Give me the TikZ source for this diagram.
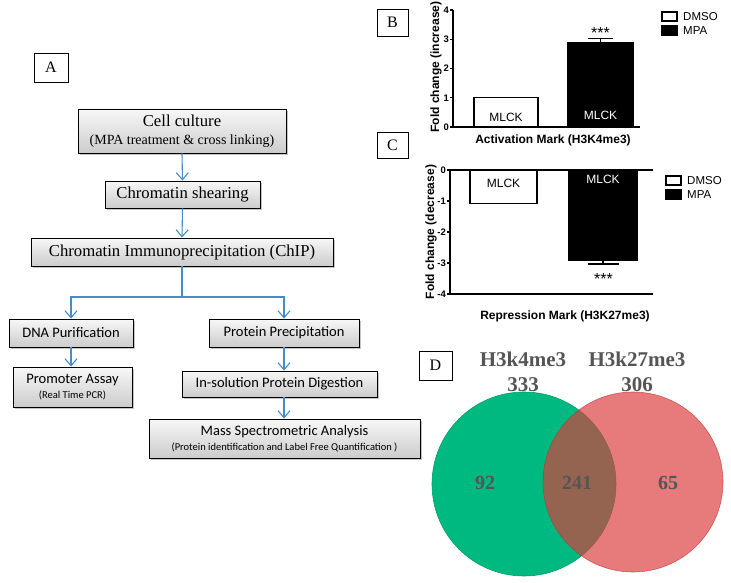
\documentclass[tikz,border=0pt]{standalone}
\usepackage{fontspec}
\setmainfont{Liberation Serif}
\newfontfamily\calfont{Carlito}
\newfontfamily\arfont{Liberation Sans}
\usetikzlibrary{arrows.meta,shadows}
\definecolor{arrblue}{RGB}{70,140,200}
\definecolor{vgreen}{RGB}{0,185,128}
\definecolor{vgreenb}{RGB}{0,160,110}
\definecolor{vred}{RGB}{220,60,60}
\definecolor{vtext}{RGB}{85,85,85}
\tikzset{
  fbox/.style={draw=black, line width=0.9pt, top color=gray!6, bottom color=gray!40,
    drop shadow={opacity=0.45, shadow xshift=1.8pt, shadow yshift=-1.8pt},
    inner sep=0pt, align=center},
  plabel/.style={draw=black, line width=0.8pt, fill=white, inner sep=0pt,
    font=\fontsize{16}{18}\selectfont},
  arr/.style={draw=arrblue, line width=1.1pt, -{Straight Barb[length=7pt,width=12pt,line width=1.1pt]}},
  conn/.style={draw=arrblue, line width=1.1pt},
  bar/.style={draw=black, line width=1.2pt},
  ax/.style={draw=black, line width=1.2pt},
  tick/.style={font=\arfont\bfseries\fontsize{9.5}{10}\selectfont, anchor=east, inner sep=1pt},
  axlab/.style={font=\arfont\bfseries\fontsize{12}{13}\selectfont},
  barlab/.style={font=\arfont\fontsize{12}{13}\selectfont},
  stars/.style={font=\arfont\fontsize{16}{16}\selectfont},
  leg/.style={font=\arfont\fontsize{11.5}{12}\selectfont, anchor=west, inner sep=0pt},
  vtitle/.style={font=\bfseries\fontsize{21}{23}\selectfont, text=vtext},
  vnum/.style={font=\bfseries\fontsize{20}{22}\selectfont, text=vtext}
}
\begin{document}
\begin{tikzpicture}[x=1pt,y=-1pt]
\useasboundingbox (0,0) rectangle (731,583);

% ---------- Panel A ----------
\node[plabel, minimum width=34pt, minimum height=29pt] (la) at (51,67.5) {A};

\node[fbox, minimum width=208pt, minimum height=44pt, font=\fontsize{16.7}{18}\selectfont] (cell) at (182,131)
  {Cell culture\\{\fontsize{14}{16}\selectfont (MPA treatment \& cross linking)}};
\node[fbox, minimum width=155pt, minimum height=27pt, font=\fontsize{16.7}{18}\selectfont] (shear) at (182.5,194.5) {Chromatin shearing};
\node[fbox, minimum width=302pt, minimum height=28pt, font=\fontsize{16.7}{18}\selectfont] (chip) at (182,252) {Chromatin Immunoprecipitation (ChIP)};
\node[fbox, minimum width=124pt, minimum height=28pt, font=\calfont\fontsize{14.5}{16}\selectfont] (dna) at (71,333) {DNA Purification};
\node[fbox, minimum width=119pt, minimum height=40pt, font=\calfont\fontsize{14.5}{15}\selectfont] (prom) at (72.5,387)
  {Promoter Assay\\{\fontsize{10.5}{12}\selectfont (Real Time PCR)}};
\node[fbox, minimum width=150pt, minimum height=28pt, font=\calfont\fontsize{14.5}{16}\selectfont] (prot) at (284,333) {Protein Precipitation};
\node[fbox, minimum width=195pt, minimum height=26pt, font=\calfont\fontsize{14.5}{16}\selectfont] (insol) at (279.5,384) {In-solution Protein Digestion};
\node[fbox, minimum width=271pt, minimum height=39pt, font=\calfont\fontsize{14.5}{14.5}\selectfont] (mass) at (284.5,438.5)
  {Mass Spectrometric Analysis\\{\fontsize{10.5}{12}\selectfont (Protein identification and Label Free Quantification )}};

\draw[arr] (cell.south) -- (shear.north);
\draw[arr] (shear.south) -- (chip.north);
\coordinate (j) at (182,297);
\draw[conn] (chip.south) -- (j);
\draw[arr] (j) -| (dna.north);
\draw[arr] (j) -| (prot.north);
\draw[arr] (dna.south) -- (dna.south |- prom.north);
\draw[arr] (prot.south) -- (prot.south |- insol.north);
\draw[arr] (prot.south |- insol.south) -- (prot.south |- mass.north);

% ---------- Panel B ----------
\node[plabel, minimum width=31pt, minimum height=27pt] (lb) at (392.5,22.5) {B};
\draw[ax] (453,10) -- (453,127) -- (640,127);
\foreach \v/\y in {0/127,1/97.75,2/68.5,3/39.25,4/10}{
  \draw[ax] (450,\y) -- (453,\y);
  \node[tick] at (450,\y) {\v};
}
\draw[bar, fill=white] (474,127) rectangle (538,97.75);
\draw[bar, fill=black] (568,127) rectangle (633,42.2);
\draw[ax] (600.5,42.2) -- (600.5,38.7);
\draw[ax] (588,38.7) -- (613,38.7);
\node[barlab] at (506,117) {MLCK};
\node[barlab, text=white] at (600.5,115) {MLCK};
\node[stars] at (600.5,33) {***};
\node[axlab, rotate=90] at (436,67) {Fold change (increase)};
\node[axlab] at (553,140) {Activation Mark (H3K4me3)};
\draw[bar, fill=white] (662,12) rectangle (677,21);
\node[leg] at (683,16.5) {DMSO};
\draw[bar, fill=black] (662,26) rectangle (677,35);
\node[leg] at (683,30.5) {MPA};

% ---------- Panel C ----------
\node[plabel, minimum width=31pt, minimum height=26pt] (lc) at (392.5,145.5) {C};
\draw[ax] (450,170) -- (653,170);
\draw[ax] (450,170) -- (450,294) -- (653,294);
\foreach \v/\y in {0/170,-1/201,-2/232,-3/263,-4/294}{
  \draw[ax] (447,\y) -- (450,\y);
  \node[tick] at (447,\y) {\v};
}
\draw[bar, fill=white] (470,170) rectangle (537,203.2);
\draw[bar, fill=black] (569,170) rectangle (637,260.8);
\draw[ax] (603,260.8) -- (603,264);
\draw[ax] (588,264) -- (619,264);
\node[barlab] at (503.5,183) {MLCK};
\node[barlab, text=white] at (603,179) {MLCK};
\node[stars] at (603.5,279) {***};
\node[axlab, rotate=90] at (431,232) {Fold change (decrease)};
\node[axlab] at (565,316) {Repression Mark (H3K27me3)};
\draw[bar, fill=white] (666,176) rectangle (681,185);
\node[leg] at (687,180.5) {DMSO};
\draw[bar, fill=black] (666,190) rectangle (681,199);
\node[leg] at (687,194.5) {MPA};

% ---------- Panel D ----------
\node[plabel, minimum width=33pt, minimum height=29pt] (ld) at (435.5,365.5) {D};
\fill[vgreen] (524,484) circle (92);
\draw[vgreenb, line width=0.6pt] (524,484) circle (92);
\fill[vred, fill opacity=0.68] (633,482) circle (90);
\draw[vred!85!black, line width=0.6pt, opacity=0.7] (633,482) circle (90);
\node[vtitle] at (523,359) {H3k4me3};
\node[vtitle] at (523,385) {333};
\node[vtitle] at (637,359) {H3k27me3};
\node[vtitle] at (637,385) {306};
\node[vnum] at (485,483) {92};
\node[vnum] at (577,483) {241};
\node[vnum] at (668,483) {65};
\end{tikzpicture}
\end{document}
